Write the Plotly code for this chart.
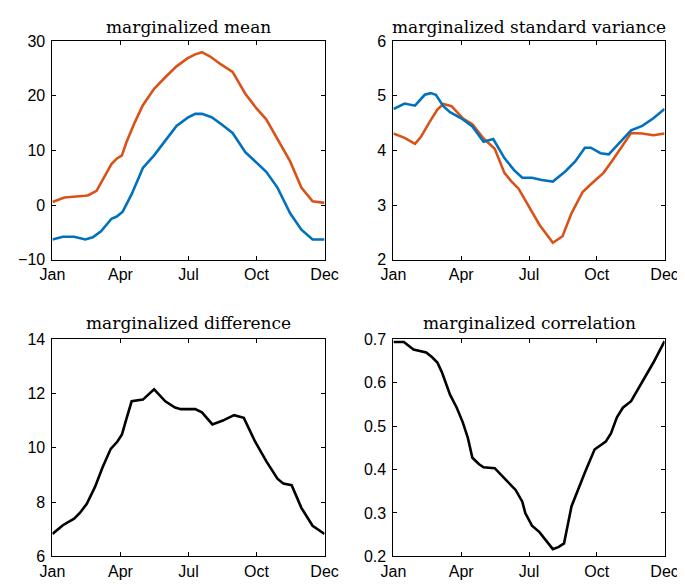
import plotly.graph_objects as go

# day-of-year positions and values
mean_hi_x = [1, 17, 45, 49, 60, 66, 72, 80, 87, 94, 100, 111, 122, 137, 152, 167, 182, 192, 201,
             212, 227, 242, 259, 274, 287, 302, 319, 334, 349, 365]
mean_hi = [0.55, 1.4, 1.7, 1.8, 2.6, 4.1, 5.6, 7.5, 8.5, 9.1, 11.5, 15.1, 18.3, 21.3, 23.4, 25.4,
           26.9, 27.6, 28.0, 27.2, 25.7, 24.4, 20.4, 17.7, 15.7, 12.1, 8.0, 3.2, 0.7, 0.4]
mean_lo_x = [1, 15, 30, 45, 55, 66, 80, 87, 95, 107, 122, 137, 152, 167, 182, 192, 201, 214,
             227, 242, 259, 274, 287, 302, 319, 334, 349, 365]
mean_lo = [-6.3, -5.8, -5.8, -6.3, -5.9, -4.8, -2.5, -2.1, -1.2, 2.0, 6.8, 9.1, 11.8, 14.5, 16.0,
           16.7, 16.7, 16.1, 14.8, 13.2, 9.7, 7.7, 6.1, 3.2, -1.5, -4.5, -6.3, -6.3]

sd_blue_x = [1, 16, 30, 43, 51, 58, 68, 77, 92, 107, 122, 135, 150, 163, 174, 187, 200, 215,
             232, 245, 258, 266, 279, 290, 305, 320, 335, 350, 365]
sd_blue = [4.76, 4.86, 4.82, 5.02, 5.05, 5.02, 4.81, 4.70, 4.59, 4.44, 4.16, 4.21, 3.86, 3.64,
           3.50, 3.50, 3.46, 3.43, 3.62, 3.80, 4.05, 4.05, 3.95, 3.93, 4.15, 4.37, 4.45, 4.59, 4.76]
sd_orange_x = [1, 16, 30, 38, 49, 60, 68, 79, 94, 107, 122, 137, 150, 159, 169, 182, 197, 215,
               228, 240, 255, 266, 283, 294, 309, 320, 335, 350, 365]
sd_orange = [4.31, 4.23, 4.12, 4.25, 4.51, 4.75, 4.85, 4.81, 4.59, 4.48, 4.22, 4.03, 3.59, 3.44,
             3.30, 3.00, 2.64, 2.31, 2.43, 2.85, 3.24, 3.38, 3.59, 3.80, 4.10, 4.32, 4.31, 4.28, 4.31]

diff_x = [1, 15, 30, 38, 47, 58, 68, 79, 88, 94, 100, 107, 122, 137, 152, 165, 173, 182, 192,
          201, 215, 229, 244, 257, 272, 287, 302, 310, 321, 334, 349, 365]
diff = [6.83, 7.15, 7.39, 7.61, 7.94, 8.56, 9.27, 9.96, 10.23, 10.49, 11.06, 11.71, 11.77, 12.15,
        11.71, 11.48, 11.42, 11.42, 11.42, 11.30, 10.86, 11.0, 11.20, 11.10, 10.23, 9.51, 8.86,
        8.68, 8.62, 7.79, 7.13, 6.83]

corr_x = [1, 15, 28, 36, 45, 53, 60, 66, 77, 86, 94, 101, 107, 116, 122, 137, 150, 165, 174, 178,
          187, 197, 215, 223, 230, 240, 258, 271, 286, 293, 301, 309, 320, 335, 350, 365]
corr = [0.693, 0.693, 0.676, 0.672, 0.669, 0.658, 0.646, 0.624, 0.572, 0.542, 0.509, 0.472, 0.427,
        0.412, 0.405, 0.403, 0.379, 0.353, 0.326, 0.300, 0.271, 0.256, 0.217, 0.222, 0.230, 0.315,
        0.393, 0.446, 0.464, 0.483, 0.520, 0.542, 0.557, 0.602, 0.646, 0.695]

month_ticks = [1, 92, 183, 274, 365]
month_labels = ['Jan', 'Apr', 'Jul', 'Oct', 'Dec']

BLUE = '#0072BD'
ORANGE = '#D95319'
W, H = 685, 584

fig = go.Figure()
fig.add_trace(go.Scatter(x=mean_hi_x, y=mean_hi, line=dict(color=ORANGE, width=2.6), xaxis='x', yaxis='y'))
fig.add_trace(go.Scatter(x=mean_lo_x, y=mean_lo, line=dict(color=BLUE, width=2.6), xaxis='x', yaxis='y'))
fig.add_trace(go.Scatter(x=sd_orange_x, y=sd_orange, line=dict(color=ORANGE, width=2.6), xaxis='x2', yaxis='y2'))
fig.add_trace(go.Scatter(x=sd_blue_x, y=sd_blue, line=dict(color=BLUE, width=2.6), xaxis='x2', yaxis='y2'))
fig.add_trace(go.Scatter(x=diff_x, y=diff, line=dict(color='black', width=2.6), xaxis='x3', yaxis='y3'))
fig.add_trace(go.Scatter(x=corr_x, y=corr, line=dict(color='black', width=2.6), xaxis='x4', yaxis='y4'))
fig.update_traces(mode='lines', showlegend=False, hoverinfo='skip')

xl = [32.7 / W, 316 / W]
xr = [387.7 / W, 670 / W]
yt = [1 - 251 / H, 1 - 26 / H]
yb = [1 - 556.7 / H, 1 - 332.7 / H]

tickfont = dict(family='Liberation Sans, Arial, sans-serif', size=16, color='black')
common = dict(showline=True, linecolor='black', linewidth=1, mirror='ticks', ticks='inside',
              ticklen=4, tickcolor='black', showgrid=False, zeroline=False, tickfont=tickfont)

def xax(dom, anchor):
    return dict(domain=dom, anchor=anchor, range=[1, 365], tickvals=month_ticks,
                ticktext=month_labels, ticklabelstandoff=0, **common)

def yax(dom, anchor, rng, dtick, fmt=''):
    return dict(domain=dom, anchor=anchor, range=rng, dtick=dtick, tickformat=fmt,
                ticklabelstandoff=3, **common)

fig.update_layout(
    width=W, height=H, margin=dict(l=0, r=0, t=0, b=0),
    paper_bgcolor='white', plot_bgcolor='white',
    xaxis=xax(xl, 'y'), yaxis=yax(yt, 'x', [-10, 30], 10),
    xaxis2=xax(xr, 'y2'), yaxis2=yax(yt, 'x2', [2, 6], 1),
    xaxis3=xax(xl, 'y3'), yaxis3=yax(yb, 'x3', [6, 14], 2),
    xaxis4=xax(xr, 'y4'), yaxis4=yax(yb, 'x4', [0.2, 0.7], 0.1, '.1f'),
)

titlefont = dict(family='DejaVu Serif, serif', size=17, color='black')
titles = [('marginalized mean', sum(xl) / 2, 11), ('marginalized standard variance', sum(xr) / 2, 11),
          ('marginalized difference', sum(xl) / 2, 316), ('marginalized correlation', sum(xr) / 2, 316)]
for text, cx, py in titles:
    fig.add_annotation(text=text, x=cx, y=1 - py / H, xref='paper', yref='paper',
                       showarrow=False, font=titlefont, xanchor='center', yanchor='middle')

fig.write_html("out.html")
